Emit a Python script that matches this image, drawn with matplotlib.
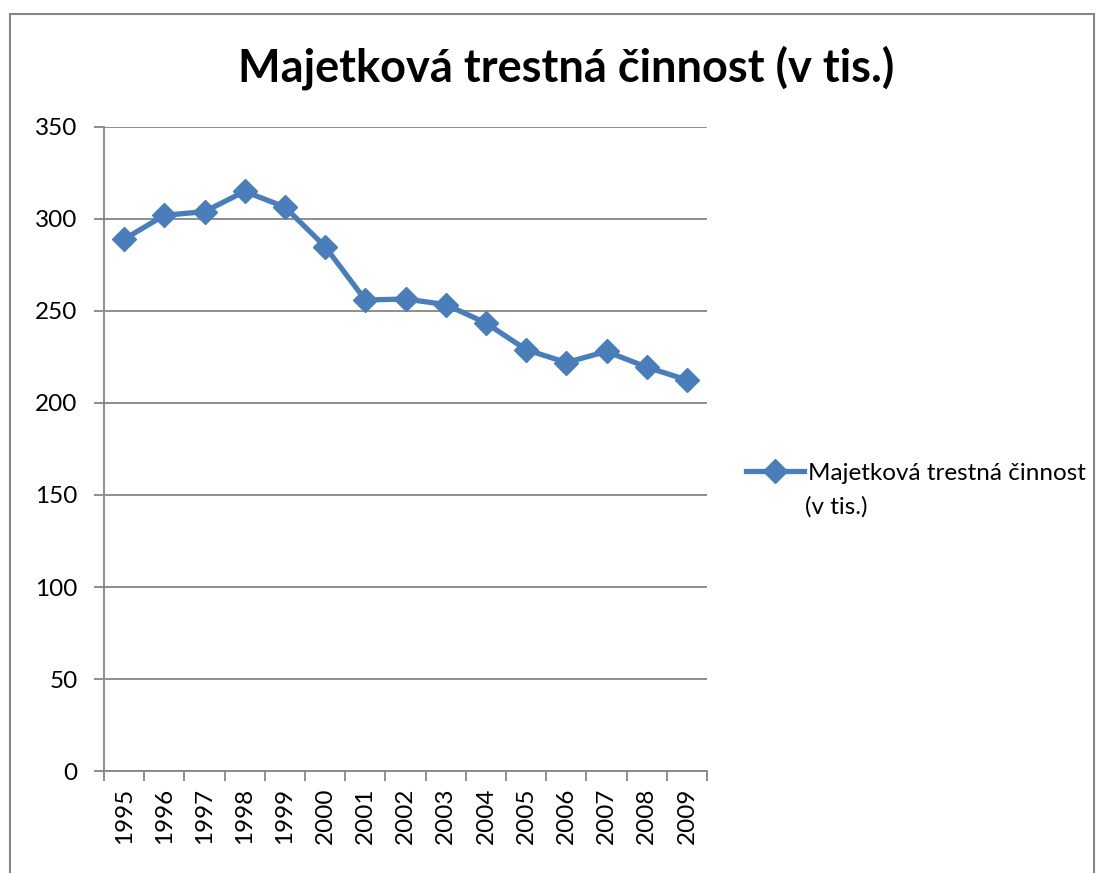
import matplotlib.pyplot as plt
from matplotlib.patches import Rectangle

years = ['1995', '1996', '1997', '1998', '1999', '2000', '2001', '2002',
         '2003', '2004', '2005', '2006', '2007', '2008', '2009']
values = [289, 302, 304, 315, 306.5, 285, 256, 256.5, 253.5, 243.5,
          229, 222, 228, 219.5, 212.5]
series_name = 'Majetková trestná činnost'
series_unit = '(v tis.)'
title = 'Majetková trestná činnost (v tis.)'

plt.rcParams['font.family'] = ['Lato', 'DejaVu Sans']

fig = plt.figure(figsize=(11.06, 8.73), dpi=100)
ax = fig.add_axes([104 / 1106, 1 - 771 / 873, 603 / 1106, 644 / 873])

x = range(len(years))
ax.plot(x, values, color='#4A7EBB', linewidth=3.8, marker='D',
        markersize=12, label=series_name)

ax.set_xlim(-0.5, len(years) - 0.5)
ax.set_ylim(0, 350)
ax.set_yticks(range(0, 351, 50))
ax.set_xticks([i - 0.5 for i in range(len(years) + 1)], minor=False)
ax.set_xticklabels([])
ax.set_xticks(list(x), minor=True)
ax.set_xticklabels(years, minor=True, rotation=90)
ax.tick_params(axis='x', which='minor', length=0, pad=12, labelsize=17.5)
ax.tick_params(axis='x', which='major', length=7, direction='out',
               color='#868686', width=1.3)
ax.tick_params(axis='y', length=7, direction='out', color='#868686',
               width=1.3, labelsize=17.5, pad=12)

ax.grid(axis='y', color='#868686', linewidth=1.3)
ax.set_axisbelow(True)
for side in ['top', 'right']:
    ax.spines[side].set_visible(False)
for side in ['left', 'bottom']:
    ax.spines[side].set_color('#868686')
    ax.spines[side].set_linewidth(1.3)

fig.text(0.5115, 0.922, title, ha='center', va='center', fontsize=32.5,
         fontweight='bold')

# legend keeps the marker level with the first line; unit goes below it
leg = fig.legend(loc='center left', bbox_to_anchor=(746 / 1106, 1 - 473 / 873),
                 frameon=False, fontsize=17.5, handlelength=2.4,
                 handletextpad=0.15, borderaxespad=0, borderpad=0)
fig.text(805 / 1106, 1 - 507 / 873, series_unit, ha='left', va='center',
         fontsize=17.5)

fig.patches.append(Rectangle((10 / 1106, -0.05), 1084 / 1106, 1.05 - 14 / 873,
                             transform=fig.transFigure, fill=False,
                             edgecolor='#868686', linewidth=1.5))

fig.savefig('out.png', dpi=100)
